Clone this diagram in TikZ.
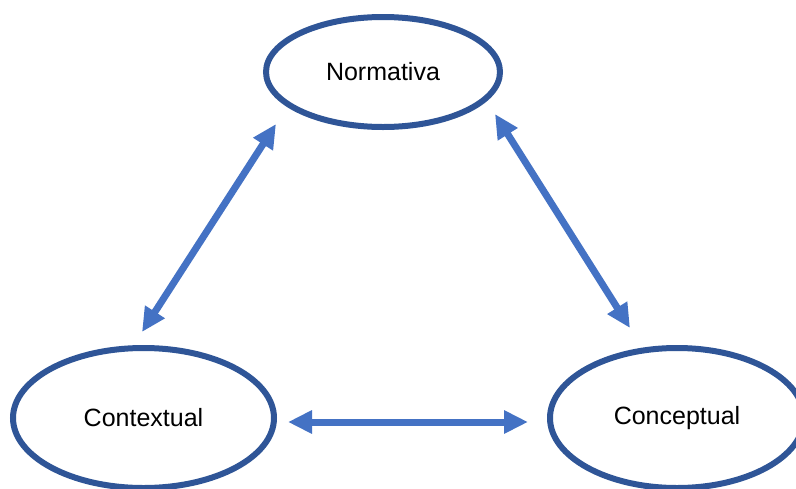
\documentclass[tikz,border=0pt]{standalone}
\usepackage{fontspec}
\setmainfont{Liberation Sans}
\usetikzlibrary{shapes.geometric,arrows.meta}
\definecolor{ellblue}{HTML}{2F5597}
\definecolor{arrblue}{HTML}{4472C4}
\begin{document}
\begin{tikzpicture}[x=1pt,y=-1pt,
  oval/.style={ellipse,draw=ellblue,line width=6pt,fill=white,font=\fontsize{25}{30}\selectfont,inner sep=0pt},
  link/.style={draw=arrblue,line width=7pt,{Triangle[width=22pt,length=24pt]}-{Triangle[width=22pt,length=24pt]}}]
\fill[white] (0,0) rectangle (796,488);
\useasboundingbox (0,0) rectangle (796,488);
\node[oval,minimum width=234pt,minimum height=110pt] (norm) at (383,72) {Normativa};
\node[oval,minimum width=261pt,minimum height=140pt] (ctx) at (143.5,418) {Contextual};
\node[oval,minimum width=254pt,minimum height=140pt] (cpt) at (677,418) {Conceptual};
\coordinate (a1) at (142,332);
\coordinate (a2) at (276,124);
\coordinate (b1) at (495,114);
\coordinate (b2) at (630,328);
\coordinate (c1) at (288,422);
\coordinate (c2) at (528,422);
\draw[link] (a1) -- (a2);
\draw[link] (b1) -- (b2);
\draw[link] (c1) -- (c2);
\end{tikzpicture}
\end{document}
